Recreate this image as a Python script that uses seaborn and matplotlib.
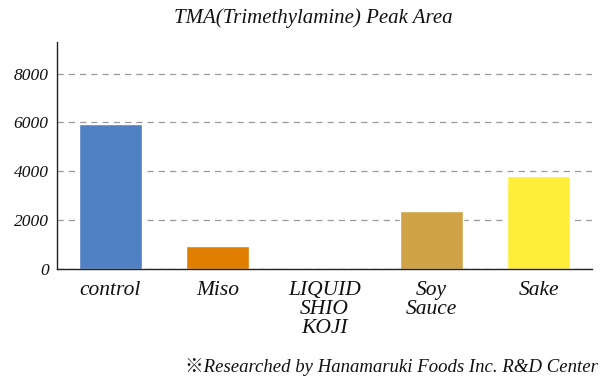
import matplotlib
matplotlib.use("Agg")
import matplotlib.pyplot as plt
import seaborn as sns
import pandas as pd

categories = ["control", "Miso", "LIQUID\nSHIO\nKOJI", "Soy\nSauce", "Sake"]
values = [5950, 960, 0, 2370, 3810]
colors = ["#4F81C4", "#E07E00", "#FFFFFF", "#D0A446", "#FFEF3B"]
yticks = [0, 2000, 4000, 6000, 8000]
title = "TMA(Trimethylamine) Peak Area"
footnote = "※Researched by Hanamaruki Foods Inc. R&D Center"

sns.set_theme(style="white")
serif = ["Liberation Serif", "DejaVu Serif", "Noto Sans CJK JP"]
plt.rcParams["font.family"] = serif
txt = "#111111"

df = pd.DataFrame({"cat": categories, "val": values})
fig = plt.figure(figsize=(6.15, 3.81), dpi=100)
ax = fig.add_axes([0.0927, 0.294, 0.8699, 0.596])
sns.barplot(data=df, x="cat", y="val", hue="cat", palette=colors, width=0.58,
            saturation=1, legend=False, ax=ax)
ax.set_xlim(-0.5, 4.5)
ax.set_ylim(0, 9300)
ax.set_yticks(yticks)
ax.set_yticklabels([str(t) for t in yticks], fontsize=12.5, style="italic", color=txt)
ax.set_xticks(range(len(categories)))
ax.set_xticklabels(categories, fontsize=15.5, style="italic", linespacing=1.0, color=txt)
ax.tick_params(axis="x", length=0, pad=9)
ax.tick_params(axis="y", length=0, pad=6)
ax.set_xlabel("")
ax.set_ylabel("")
ax.yaxis.grid(True, linestyle=(0, (5, 4)), color="#9a9a9a", linewidth=0.9)
ax.set_axisbelow(True)
for s in ["top", "right"]:
    ax.spines[s].set_visible(False)
ax.spines["left"].set_color("#222222")
ax.spines["bottom"].set_color("#222222")
ax.spines["left"].set_linewidth(1.0)
ax.spines["bottom"].set_linewidth(1.0)

fig.text(0.51, 0.952, title, ha="center", va="center", fontsize=15,
         style="italic", family=serif, color=txt)
fig.text(0.972, 0.036, footnote, ha="right", va="center", fontsize=13.5,
         style="italic", family=serif, color=txt)
fig.savefig("out.png", dpi=100, facecolor="white")
